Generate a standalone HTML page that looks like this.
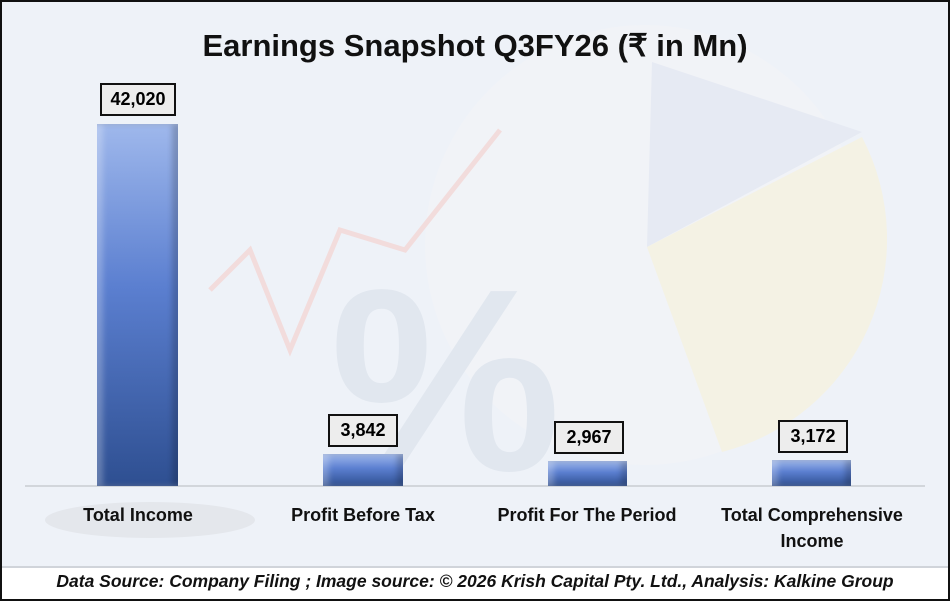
<!DOCTYPE html>
<html><head><style>
body{margin:0;width:950px;height:601px;overflow:hidden;font-family:"Liberation Sans",sans-serif}
#w{position:absolute;left:0;top:0;width:946px;height:597px;border:2px solid #111;background:#fff}
#c{position:absolute;left:0;top:0;width:946px;height:564px;background:#eef2f8;border-bottom:2px solid #d0d4da}
.t{position:absolute;left:0;width:946px;text-align:center;font-weight:bold;font-size:31px;top:26px;color:#111}
.bar{position:absolute;background:linear-gradient(180deg,#9fb8ec 0%,#5b7fd0 45%,#2e4f91 100%);box-shadow:inset 6px 0 6px rgba(255,255,255,.25),inset -6px 0 6px rgba(0,0,0,.2)}
.lb{position:absolute;border:2px solid #111;background:#ededed;font-weight:bold;font-size:18px;text-align:center;height:29px;line-height:29px}
.cat{position:absolute;width:220px;text-align:center;font-weight:bold;font-size:18px;line-height:26px;color:#111}
#f{position:absolute;left:0;top:569px;width:946px;text-align:center;font-style:italic;font-weight:bold;font-size:17.5px;color:#111}
</style></head><body><div id="w"><div id="c">
<svg width="946" height="566" style="position:absolute;left:0;top:0">
<circle cx="643" cy="243" r="220" fill="#f1f3f7"/>
<path d="M650 60 L860 130 L645 245Z" fill="#e6eaf3"/>
<path d="M860 135 A220 220 0 0 1 720 450 L645 245Z" fill="#f4f2e4"/>
<text x="328" y="468" font-size="260" font-weight="bold" fill="#e1e7ef" font-family="Liberation Sans">%</text>
<polyline points="208,288 248,248 288,348 338,228 403,248 498,128" fill="none" stroke="#f2dcdc" stroke-width="5"/>
<ellipse cx="148" cy="518" rx="105" ry="18" fill="#e4e7ec"/>
<line x1="23" y1="484" x2="923" y2="484" stroke="#c9ccd1" stroke-width="1.5"/>
</svg>
<div class="t">Earnings Snapshot Q3FY26 (₹ in Mn)</div>
<div class="bar" style="left:95px;top:122px;width:81px;height:362px"></div>
<div class="bar" style="left:321px;top:452px;width:80px;height:32px"></div>
<div class="bar" style="left:546px;top:459px;width:79px;height:25px"></div>
<div class="bar" style="left:770px;top:458px;width:79px;height:26px"></div>
<div class="lb" style="left:98px;top:81px;width:72px">42,020</div>
<div class="lb" style="left:326px;top:412px;width:66px">3,842</div>
<div class="lb" style="left:552px;top:419px;width:66px">2,967</div>
<div class="lb" style="left:776px;top:418px;width:66px">3,172</div>
<div class="cat" style="left:26px;top:500px">Total Income</div>
<div class="cat" style="left:251px;top:500px">Profit Before Tax</div>
<div class="cat" style="left:475px;top:500px">Profit For The Period</div>
<div class="cat" style="left:700px;top:500px">Total Comprehensive Income</div>
</div>
<div id="f">Data Source: Company Filing ; Image source: © 2026 Krish Capital Pty. Ltd., Analysis: Kalkine Group</div>
</div></body></html>
